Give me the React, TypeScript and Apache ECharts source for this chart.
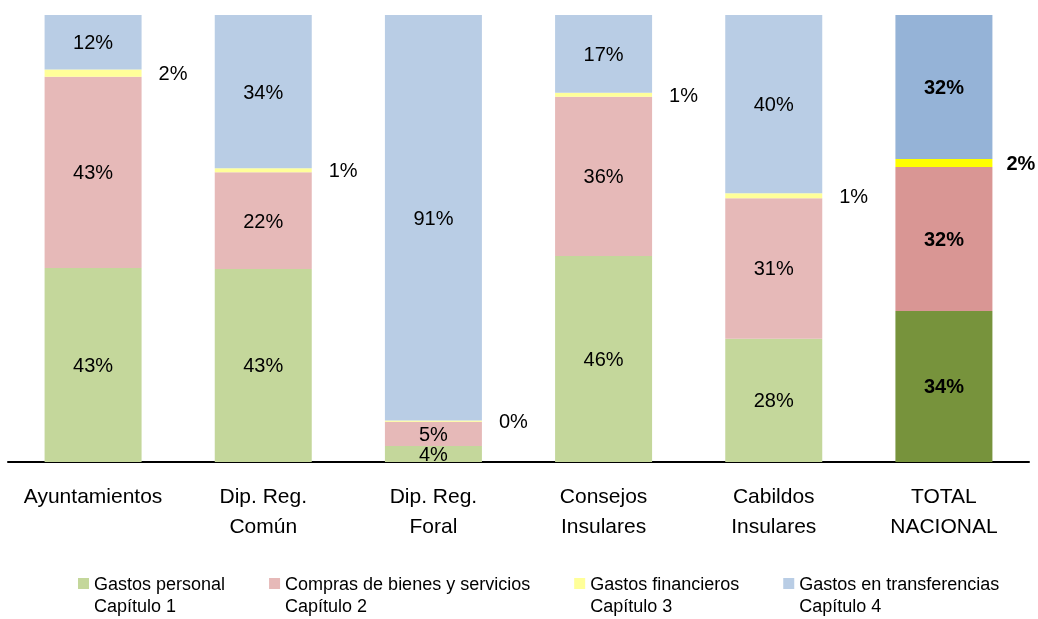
import React, { useEffect, useRef } from "react";
import * as echarts from "echarts";

const categories = [
  "Ayuntamientos",
  "Dip. Reg.\nComún",
  "Dip. Reg.\nForal",
  "Consejos\nInsulares",
  "Cabildos\nInsulares",
  "TOTAL\nNACIONAL",
];
const personal = [43.4, 43.2, 3.6, 46.1, 27.6, 33.8];
const compras = [42.8, 21.6, 5.4, 35.6, 31.4, 32.2];
const financieros = [1.6, 0.9, 0.3, 0.9, 1.1, 1.8];
const transferencias = [12.2, 34.3, 90.7, 17.4, 39.9, 32.2];

const seriesNames = [
  "Gastos personal\nCapítulo 1",
  "Compras de bienes y servicios\nCapítulo 2",
  "Gastos financieros\nCapítulo 3",
  "Gastos en transferencias\nCapítulo 4",
];
const lightColors = ["#C4D79B", "#E6B9B8", "#FFFF99", "#B9CDE5"];
const totalColors = ["#77933C", "#D99694", "#FFFF00", "#95B3D7"];

const FONT = "'Liberation Sans', Arial, sans-serif";

export default function App() {
  const ref = useRef<HTMLDivElement>(null);
  useEffect(() => {
    if (!ref.current) return;
    const chart = echarts.init(ref.current, null, { renderer: "svg" });
    const values = [personal, compras, financieros, transferencias];
    const lastIdx = categories.length - 1;
    const series = values.map((arr, si) => ({
      name: seriesNames[si],
      type: "bar",
      stack: "total",
      barWidth: 97,
      itemStyle: { color: lightColors[si] },
      label: {
        show: true,
        position: si === 2 ? "right" : "inside",
        distance: 17,
        fontFamily: FONT,
        fontSize: 20,
        color: "#000",
        formatter: (p: any) => Math.round(p.value) + "%",
      },
      data: arr.map((v, i) =>
        i === lastIdx
          ? {
              value: v,
              itemStyle: { color: totalColors[si] },
              label: { fontWeight: "bold", distance: 14 },
            }
          : v
      ),
    }));
    chart.setOption({
      animation: false,
      grid: { left: 8, right: 9, top: 15, bottom: 157, containLabel: false },
      xAxis: {
        type: "category",
        data: categories,
        axisLine: { show: true, lineStyle: { color: "#000", width: 2 } },
        axisTick: { show: false },
        axisLabel: {
          interval: 0,
          margin: 18,
          fontFamily: FONT,
          fontSize: 21,
          lineHeight: 30,
          color: "#000",
        },
      },
      yAxis: { type: "value", min: 0, max: 100, show: false },
      legend: {
        left: 78,
        top: 573,
        padding: 0,
        itemGap: 44,
        itemWidth: 11,
        itemHeight: 34,
        icon: "path://M0,0h11v11h-11zM0,33.9h0.1v0.1h-0.1z",
        textStyle: {
          fontFamily: FONT,
          fontSize: 18,
          lineHeight: 22,
          color: "#000",
        },
        itemStyle: { borderWidth: 0 },
        data: seriesNames,
      },
      series,
    });
    return () => chart.dispose();
  }, []);
  return (
    <div
      ref={ref}
      style={{ position: "fixed", left: 0, top: 0, width: 1038, height: 619 }}
    />
  );
}
